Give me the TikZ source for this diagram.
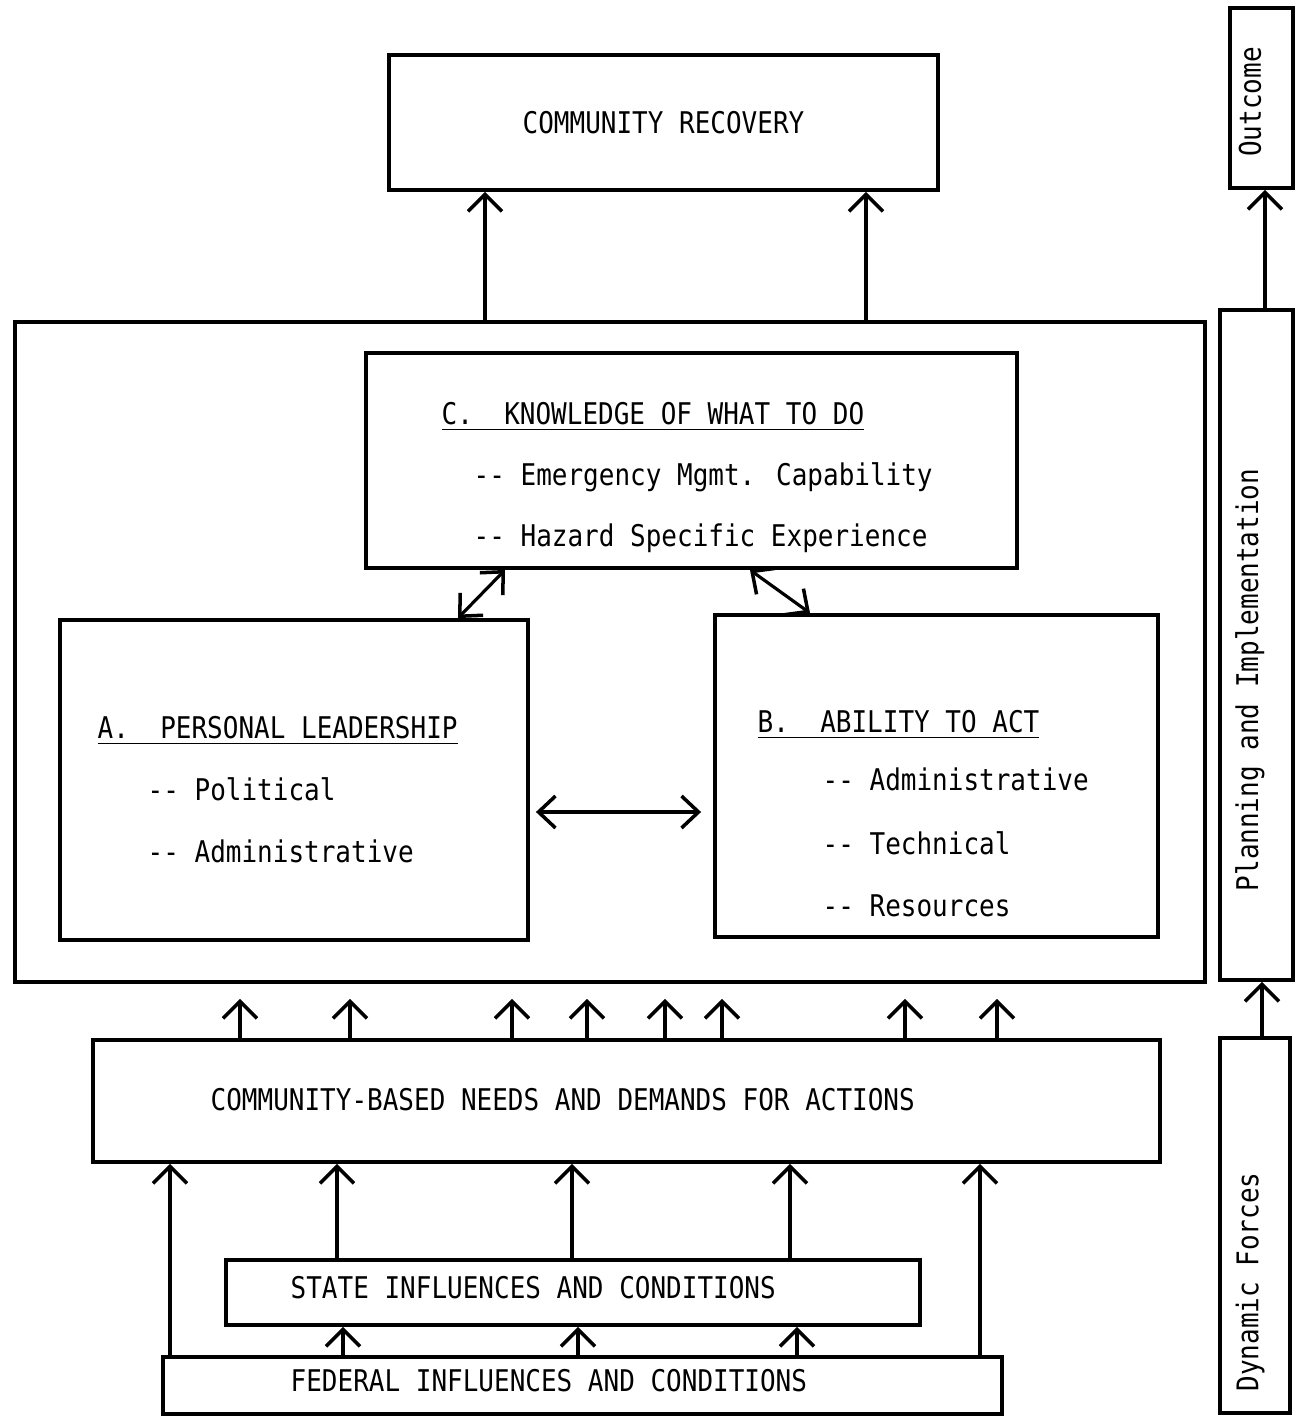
\documentclass[tikz,border=0pt]{standalone}
\usepackage{fontspec}
\setmainfont[FakeStretch=0.87]{DejaVu Sans Mono}
\usepackage{tikz}
\usetikzlibrary{arrows.meta, positioning, calc}

\newcommand{\dd}{-{}-}

\begin{document}
\begin{tikzpicture}[
    box/.style={draw, line width=1.1pt, inner sep=0pt},
    arr/.style={line width=0.9pt, -{Straight Barb[length=1.7mm, width=3.4mm, line width=1pt]}},
    dbl/.style={line width=0.9pt, {Straight Barb[length=1.7mm, width=3.2mm, line width=1pt]}-{Straight Barb[length=1.7mm, width=3.2mm, line width=1pt]}},
    lbl/.style={anchor=base west, inner sep=0pt},
    every node/.style={font=\fontsize{8.5}{10}\selectfont}
  ]
    \fill[white] (0,0) rectangle (12.96,-14.17);

    % outcome
    \node[box, minimum width=5.49cm, minimum height=1.35cm] (cr) at (6.635,-1.225) {COMMUNITY RECOVERY};

    % planning and implementation
    \node[box, minimum width=11.9cm, minimum height=6.6cm] (core) at (6.10,-6.52) {};
    \node[box, minimum width=6.51cm, minimum height=2.15cm] (know) at (6.915,-4.605) {};
    \node[box, minimum width=4.68cm, minimum height=3.2cm] (lead) at (2.94,-7.80) {};
    \node[box, minimum width=4.43cm, minimum height=3.22cm] (act) at (9.365,-7.76) {};

    \node[lbl] (knowT) at (4.41,-4.24) {\underline{C.\ \ KNOWLEDGE OF WHAT TO DO}};
    \node[lbl] (knowA) at (4.73,-4.85) {\dd\ Emergency Mgmt. Capability};
    \node[lbl] (knowB) at (4.73,-5.46) {\dd\ Hazard Specific Experience};

    \node[lbl] (leadT) at (0.97,-7.38) {\underline{A.\ \ PERSONAL LEADERSHIP}};
    \node[lbl] (leadA) at (1.47,-8.00) {\dd\ Political};
    \node[lbl] (leadB) at (1.47,-8.62) {\dd\ Administrative};

    \node[lbl] (actT) at (7.57,-7.32) {\underline{B.\ \ ABILITY TO ACT}};
    \node[lbl] (actA) at (8.22,-7.90) {\dd\ Administrative};
    \node[lbl] (actB) at (8.22,-8.54) {\dd\ Technical};
    \node[lbl] (actC) at (8.22,-9.16) {\dd\ Resources};

    % dynamic forces
    \node[box, minimum width=10.67cm, minimum height=1.22cm] (needs) at (6.265,-11.01) {};
    \node[lbl] (needsT) at (2.10,-11.10) {COMMUNITY-BASED NEEDS AND DEMANDS FOR ACTIONS};
    \node[box, minimum width=6.94cm, minimum height=0.65cm] (state) at (5.73,-12.925) {};
    \node[lbl] (stateT) at (2.90,-12.98) {STATE INFLUENCES AND CONDITIONS};
    \node[box, minimum width=8.39cm, minimum height=0.57cm] (fed) at (5.825,-13.855) {};
    \node[lbl] (fedT) at (2.90,-13.91) {FEDERAL INFLUENCES AND CONDITIONS};

    % side column
    \node[box, minimum width=0.63cm, minimum height=1.8cm] (outc) at (12.615,-0.98) {};
    \node[rotate=90, inner sep=0pt] (outcT) at (12.50,-1.02) {Outcome};
    \node[box, minimum width=0.73cm, minimum height=6.7cm] (plan) at (12.565,-6.45) {};
    \node[rotate=90, inner sep=0pt] (planT) at (12.50,-6.80) {Planning and Implementation};
    \node[box, minimum width=0.7cm, minimum height=3.75cm] (dyn) at (12.55,-12.255) {};
    \node[rotate=90, inner sep=0pt] (dynT) at (12.50,-12.82) {Dynamic Forces};

    % connectors
    \foreach \x in {4.85,8.66}
      \draw[arr] (core.north -| \x,0) -- (cr.south -| \x,0);
    \draw[dbl] (know.south -| 5.05,0) -- (lead.north -| 4.58,0);
    \draw[dbl] (know.south -| 7.50,0) -- (act.north -| 8.10,0);
    \draw[dbl, shorten <=0.6mm, shorten >=1.2mm] (lead.east |- 0,-8.12) -- (act.west |- 0,-8.12);
    \foreach \x in {2.40,3.50,5.12,5.87,6.65,7.22,9.05,9.97}
      \draw[arr, shorten >=1.5mm] (needs.north -| \x,0) -- (core.south -| \x,0);
    \foreach \x in {3.37,5.72,7.90}
      \draw[arr] (state.north -| \x,0) -- (needs.south -| \x,0);
    \foreach \x in {1.70,9.80}
      \draw[arr] (fed.north -| \x,0) -- (needs.south -| \x,0);
    \foreach \x in {3.43,5.78,7.97}
      \draw[arr] (fed.north -| \x,0) -- (state.south -| \x,0);
    \draw[arr] (plan.north -| 12.65,0) -- (outc.south -| 12.65,0);
    \draw[arr] (dyn.north -| 12.62,0) -- (plan.south -| 12.62,0);
  \end{tikzpicture}
\end{document}
